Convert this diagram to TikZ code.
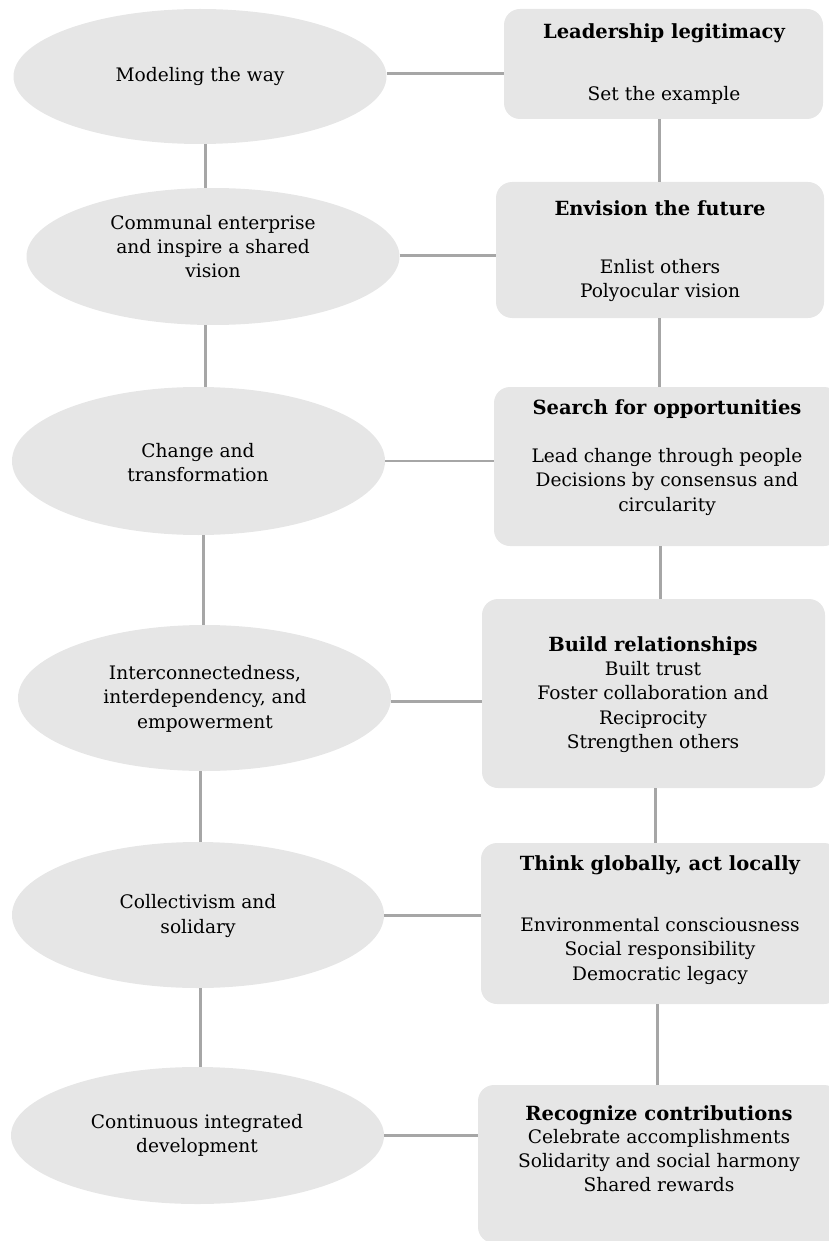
\documentclass[tikz,border=0pt]{standalone}
\usepackage{fontspec}
\setmainfont{DejaVu Serif}
\usetikzlibrary{shapes.geometric,calc}
\definecolor{shapefill}{HTML}{E6E6E6}
\definecolor{linegray}{HTML}{A6A6A6}
\newcommand{\hd}[1]{{\fontsize{19.5}{24.3}\selectfont\bfseries #1}}
\begin{document}
\begin{tikzpicture}[x=1pt,y=-1pt,
  oval/.style={ellipse, fill=shapefill, draw=none, inner sep=0pt},
  card/.style={rectangle, rounded corners=16pt, fill=shapefill, draw=none, inner sep=0pt},
  txt/.style={align=center, font=\fontsize{18.6}{24.3}\selectfont, inner sep=0pt},
  bold/.style={font=\fontsize{19.5}{24.3}\selectfont\bfseries},
  conn/.style={draw=linegray, line width=3pt}]
\useasboundingbox (0,0) rectangle (829,1241);

% ellipses
\node[oval, minimum width=373pt, minimum height=135pt] (e1) at (200,76.5) {};
\node[oval, minimum width=373pt, minimum height=137pt] (e2) at (213,256.5) {};
\node[oval, minimum width=373pt, minimum height=148pt] (e3) at (198.5,461) {};
\node[oval, minimum width=373pt, minimum height=146pt] (e4) at (204.5,698) {};
\node[oval, minimum width=372pt, minimum height=146pt] (e5) at (198,915) {};
\node[oval, minimum width=373pt, minimum height=137pt] (e6) at (197.5,1135.5) {};

\node[txt] (te1) at (200,77) {Modeling the way};
\node[txt] (te2) at (213,246.5) {Communal enterprise\\and inspire a shared\\vision};
\node[txt] (te3) at (198,462.5) {Change and\\transformation};
\node[txt] (te4) at (205,698.7) {Interconnectedness,\\interdependency, and\\empowerment};
\node[txt] (te5) at (198,916) {Collectivism and\\solidary};
\node[txt] (te6) at (197,1135.5) {Continuous integrated\\development};

% boxes
\node[card, minimum width=319pt, minimum height=110pt] (b1) at (663.5,64) {};
\node[card, minimum width=328pt, minimum height=136pt] (b2) at (660,250) {};
\node[card, minimum width=346pt, minimum height=159pt] (b3) at (667,466.5) {};
\node[card, minimum width=343pt, minimum height=189pt] (b4) at (653.5,693.5) {};
\node[card, minimum width=359pt, minimum height=161pt] (b5) at (660.5,923.5) {};
\node[card, minimum width=362pt, minimum height=158pt] (b6) at (659,1164) {};

\node[txt, bold] (tb1h) at (664,33) {Leadership legitimacy};
\node[txt] (tb1) at (664,95) {Set the example};
\node[txt, bold] (tb2h) at (660,208) {Envision the future};
\node[txt] (tb2) at (660,280.5) {Enlist others\\Polyocular vision};
\node[txt, bold] (tb3h) at (667,409) {Search for opportunities};
\node[txt] (tb3) at (667,481.7) {Lead change through people\\Decisions by consensus and\\circularity};
\node[txt] (tb4) at (653,694.5) {\hd{Build relationships}\\Built trust\\Foster collaboration and\\Reciprocity\\Strengthen others};
\node[txt, bold] (tb5h) at (660,865) {Think globally, act locally};
\node[txt] (tb5) at (660,950.7) {Environmental consciousness\\Social responsibility\\Democratic legacy};
\node[txt, font=\fontsize{18.6}{23.7}\selectfont] (tb6) at (659,1148.5) {\hd{Recognize contributions}\\Celebrate accomplishments\\Solidarity and social harmony\\Shared rewards};

% horizontal connectors
\draw[conn, line width=3.5pt] ([yshift=3pt]e1.east) -- ([yshift=3pt]e1.east -| b1.west);
\draw[conn] ([yshift=1pt]e2.east) -- ([yshift=1pt]e2.east -| b2.west);
\draw[conn, line width=1.3pt] (e3.east) -- (e3.east -| b3.west);
\draw[conn] ([yshift=-3pt]e4.east) -- ([yshift=-3pt]e4.east -| b4.west);
\draw[conn] (e5.east) -- (e5.east -| b5.west);
\draw[conn] (e6.east) -- (e6.east -| b6.west);

% left vertical connectors
\draw[conn] ([xshift=5pt]e1.south) -- ([xshift=5pt]e1.south |- e2.north);
\draw[conn] ([xshift=-8pt]e2.south) -- ([xshift=-8pt]e2.south |- e3.north);
\draw[conn] ([xshift=4.5pt]e3.south) -- ([xshift=4.5pt]e3.south |- e4.north);
\draw[conn] ([xshift=-4.5pt]e4.south) -- ([xshift=-4.5pt]e4.south |- e5.north);
\draw[conn] ([xshift=2pt]e5.south) -- ([xshift=2pt]e5.south |- e6.north);

% right vertical connectors
\draw[conn] ([xshift=-4.5pt]b1.south) -- ([xshift=-4.5pt]b1.south |- b2.north);
\draw[conn] ([xshift=-1pt]b2.south) -- ([xshift=-1pt]b2.south |- b3.north);
\draw[conn] ([xshift=-7pt]b3.south) -- ([xshift=-7pt]b3.south |- b4.north);
\draw[conn] ([xshift=1.5pt]b4.south) -- ([xshift=1.5pt]b4.south |- b5.north);
\draw[conn] ([xshift=-3.5pt]b5.south) -- ([xshift=-3.5pt]b5.south |- b6.north);
\end{tikzpicture}
\end{document}
